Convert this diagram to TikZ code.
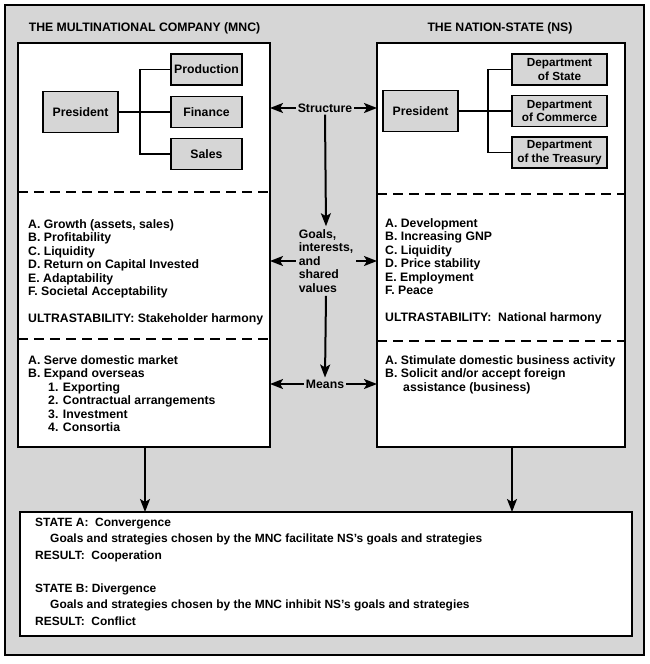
\documentclass[tikz,border=0pt]{standalone}
\usepackage{fontspec}
\setmainfont{Liberation Sans}
\usetikzlibrary{shapes,positioning,calc,arrows.meta}

\begin{document}
\begin{tikzpicture}[
      x=1bp,y=-1bp,
      txt/.style = {font=\fontsize{12.3}{13.6}\selectfont\bfseries, inner sep=0pt},
      panel/.style = {draw, line width=1.4bp, fill=white, inner sep=0pt, outer sep=0pt},
      orgbox/.style = {draw, line width=1.4bp, fill=black!16, inner sep=0pt, outer sep=0pt, txt, align=center},
      tie/.style = {line width=1.4bp},
      flow/.style = {-{Stealth[length=13bp,width=10bp,inset=3bp]}, line width=2bp},
      divider/.style = {line width=1.4bp, dash pattern=on 10bp off 6bp}
      ]
      \path[use as bounding box] (0,0) rectangle (650,664);
      \draw[line width=1.4bp, fill=black!16] (5,5) rectangle (644,655);
      \node[txt] (mnctitle) at (144.5,28) {THE MULTINATIONAL COMPANY (MNC)};
      \node[txt] (nstitle) at (500,28) {THE NATION-STATE (NS)};
      \node[panel, minimum width=252bp, minimum height=404bp] (mnc) at (144,245) {};
      \node[panel, minimum width=248bp, minimum height=404bp] (ns) at (501,245) {};
      \node[panel, minimum width=612bp, minimum height=124bp] (outcome) at (326,574) {};
      \draw[divider] (mnc.west |- 0,192) -- (mnc.east |- 0,192);
      \draw[divider] (mnc.west |- 0,339) -- (mnc.east |- 0,339);
      \draw[divider] (ns.west |- 0,194) -- (ns.east |- 0,194);
      \draw[divider] (ns.west |- 0,341) -- (ns.east |- 0,341);
      \node[orgbox, minimum width=75bp, minimum height=41bp] (lpres) at (80.5,112) {President};
      \node[orgbox, minimum width=71bp, minimum height=31bp] (lprod) at (206.5,69.5) {Production};
      \node[orgbox, minimum width=71bp, minimum height=31bp] (lfin) at (206.5,112) {Finance};
      \node[orgbox, minimum width=71bp, minimum height=31bp] (lsales) at (206.5,154) {Sales};
      \draw[tie] (lpres) -- (lfin);
      \draw[tie] (lprod.west) -- ++(-31,0) |- (lsales.west);
      \node[orgbox, minimum width=75bp, minimum height=41bp] (rpres) at (420.5,111) {President};
      \node[orgbox, minimum width=95bp, minimum height=31bp, font=\fontsize{11.8}{13.6}\selectfont\bfseries] (rstate) at (559.5,69.5) {Department\\of State};
      \node[orgbox, minimum width=95bp, minimum height=31bp, font=\fontsize{11.8}{13.6}\selectfont\bfseries] (rcom) at (559.5,111) {Department\\of Commerce};
      \node[orgbox, minimum width=95bp, minimum height=31bp, font=\fontsize{11.8}{13.6}\selectfont\bfseries] (rtreas) at (559.5,152.5) {Department\\of the Treasury};
      \draw[tie] (rpres) -- (rcom);
      \draw[tie] (rstate.west) -- ++(-24,0) |- (rtreas.west);
      \node[txt, inner sep=2pt] (struct) at (325,108) {Structure};
      \node[txt, inner sep=3pt, align=left] (goals) at (326,261) {Goals,\\interests,\\and\\shared\\values};
      \node[txt, inner sep=2pt] (means) at (325,384) {Means};
      \draw[flow] (struct.west) -- (struct -| mnc.east);
      \draw[flow] (struct.east) -- (struct -| ns.west);
      \draw[flow] (struct.south) -- (goals.north);
      \draw[flow] (goals.west) -- (goals -| mnc.east);
      \draw[flow] (goals.east) -- (goals -| ns.west);
      \draw[flow] (goals.south) -- (means.north);
      \draw[flow] (means.west) -- (means -| mnc.east);
      \draw[flow] (means.east) -- (means -| ns.west);
      \node[txt, anchor=north west, align=left] (mncgoals) at (28,219) {A. Growth (assets, sales)\\B. Profitability\\C. Liquidity\\D. Return on Capital Invested\\E. Adaptability\\F. Societal Acceptability\\[13bp]ULTRASTABILITY: Stakeholder harmony};
      \node[txt, anchor=north west, align=left] (nsgoals) at (385,218) {A. Development\\B. Increasing GNP\\C. Liquidity\\D. Price stability\\E. Employment\\F. Peace\\[13bp]ULTRASTABILITY:\ \ National harmony};
      \node[txt, anchor=north west, align=left] (mncmeans) at (28,355) {A. Serve domestic market\\B. Expand overseas\\\hspace*{20bp}1. Exporting\\\hspace*{20bp}2. Contractual arrangements\\\hspace*{20bp}3. Investment\\\hspace*{20bp}4. Consortia};
      \node[txt, anchor=north west, align=left] (nsmeans) at (385,355) {A. Stimulate domestic business activity\\B. Solicit and/or accept foreign\\\hspace*{18bp}assistance (business)};
      \draw[flow] ([xshift=1bp]mnc.south) -- ([xshift=1bp]mnc.south |- outcome.north);
      \draw[flow] ([xshift=11bp]ns.south) -- ([xshift=11bp]ns.south |- outcome.north);
      \node[txt, anchor=north west, align=left, font=\fontsize{12}{16.5}\selectfont\bfseries] (states) at (35,518) {STATE A:\ \ Convergence\\\hspace*{15bp}Goals and strategies chosen by the MNC facilitate NS's goals and strategies\\RESULT:\ \ Cooperation\\[16.5bp]STATE B: Divergence\\\hspace*{15bp}Goals and strategies chosen by the MNC inhibit NS's goals and strategies\\RESULT:\ \ Conflict};
    \end{tikzpicture}
\end{document}
